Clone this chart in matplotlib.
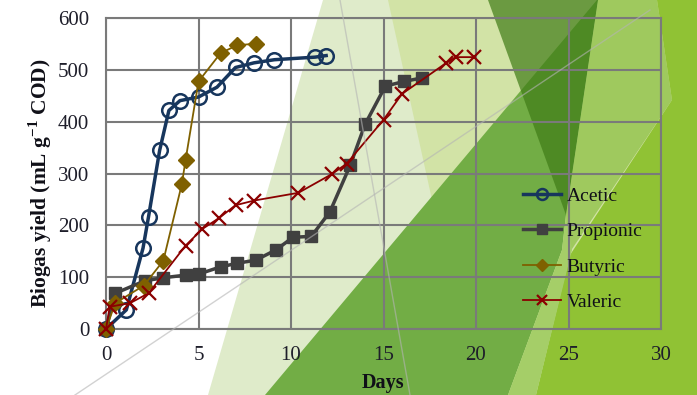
import matplotlib
matplotlib.use("Agg")
import matplotlib.pyplot as plt
from matplotlib.patches import Polygon
from matplotlib.lines import Line2D

plt.rcParams["font.family"] = ["Liberation Serif", "DejaVu Serif"]
plt.rcParams["mathtext.fontset"] = "custom"
plt.rcParams["mathtext.rm"] = "Liberation Serif:bold"
plt.rcParams["mathtext.bf"] = "Liberation Serif:bold"

# Cumulative biogas yield (mL g-1 COD) versus time (days)
acetic_days = [0, 1.1, 2.0, 2.3, 2.9, 3.4, 4.0, 5.0, 6.0, 7.0, 8.0, 9.1, 11.3, 11.9]
acetic_vals = [0, 37, 156, 217, 345, 422, 441, 448, 467, 505, 514, 520, 525, 528]

propionic_days = [0, 0.5, 2.1, 3.1, 4.3, 5.0, 6.2, 7.1, 8.1, 9.2, 10.1, 11.1, 12.1, 13.2, 14.0, 15.1, 16.1, 17.1]
propionic_vals = [0, 69, 93, 99, 104, 106, 120, 127, 133, 153, 177, 179, 226, 316, 395, 469, 478, 485]

butyric_days = [0, 0.5, 2.05, 3.1, 4.1, 4.3, 5.0, 6.2, 7.1, 8.1]
butyric_vals = [0, 50, 84, 132, 280, 326, 478, 533, 548, 551]

valeric_days = [0, 0.2, 1.3, 2.3, 4.3, 5.2, 6.1, 7.0, 8.0, 10.4, 12.2, 13.0, 15.0, 16.0, 18.4, 18.9, 19.9]
valeric_vals = [0, 43, 50, 69, 161, 193, 214, 239, 248, 263, 299, 319, 404, 454, 514, 525, 525]

x_ticks = [0, 5, 10, 15, 20, 25, 30]
y_ticks = [0, 100, 200, 300, 400, 500, 600]

W, H = 697, 395
fig = plt.figure(figsize=(W / 100, H / 100), dpi=100)
fig.patch.set_facecolor("white")


def px(points):
    return [(x / W, 1 - y / H) for x, y in points]


def shape(points, color, alpha=1.0):
    fig.add_artist(Polygon(px(points), closed=True, facecolor=color, edgecolor="none",
                           alpha=alpha, transform=fig.transFigure, zorder=0))


# Faceted green backdrop
shape([(323, 0), (697, 0), (697, 395), (208, 395)], "#dfebca")
shape([(388, 0), (697, 0), (697, 395), (475, 395)], "#d2e3a6")
shape([(265, 395), (597, 0), (598, 0), (566, 215), (562, 250), (508, 395)], "#72ad45")
shape([(598, 0), (657, 0), (672, 100), (568, 255), (566, 215)], "#9fc95e")
shape([(657, 0), (697, 0), (697, 395), (536, 395), (570, 255), (672, 100)], "#90c234")
shape([(566, 215), (572, 250), (536, 395), (508, 395), (562, 250)], "#a5ce68")
shape([(488, 0), (598, 0), (566, 215)], "#3f7c16", alpha=0.7)
for seg in ([(75, 395), (650, 10)], [(340, 0), (410, 395)]):
    fig.add_artist(Line2D([p[0] for p in px(seg)], [p[1] for p in px(seg)],
                          color="#b4b4b4", lw=1.0, alpha=0.6,
                          transform=fig.transFigure, zorder=0.5))

ax = fig.add_axes([106 / W, 1 - 329 / H, (661 - 106) / W, (329 - 18.3) / H])
ax.set_facecolor("none")
ax.set_xlim(0, 30)
ax.set_ylim(0, 600)
ax.set_xticks(x_ticks)
ax.set_yticks(y_ticks)
ax.grid(True, color="#7a7a7a", lw=1.5)
ax.set_axisbelow(True)
for s in ax.spines.values():
    s.set_color("#7a7a7a")
    s.set_linewidth(1.5)
ax.tick_params(length=0, labelsize=15, colors="#1e1e2a", pad=12)

ax.plot(acetic_days, acetic_vals, color="#17365d", lw=2.5, marker="o", ms=10.5,
        mfc="none", mec="#17365d", mew=1.8, label="Acetic", clip_on=False, zorder=3)
ax.plot(propionic_days, propionic_vals, color="#404040", lw=2.5, marker="s", ms=9,
        mfc="#404040", mec="#404040", label="Propionic", clip_on=False, zorder=4)
ax.plot(butyric_days, butyric_vals, color="#7f6000", lw=1.3, marker="D", ms=8,
        mfc="#7f6000", mec="#7f6000", label="Butyric", clip_on=False, zorder=5)
ax.plot(valeric_days, valeric_vals, color="#8b0000", lw=1.3, marker="x", ms=10,
        mew=1.6, label="Valeric", clip_on=False, zorder=6)

fig.text(40 / W, 1 - 183 / H, r"Biogas yield (mL g$^{-1}$ COD)", rotation=90,
         ha="center", va="center", fontsize=15.5, fontweight="bold", color="#101018")
fig.text(383.5 / W, 1 - 383 / H, "Days", ha="center", va="center",
         fontsize=14.5, fontweight="bold", color="#101018")

leg = ax.legend(loc="upper left", bbox_to_anchor=(523 / W, 1 - 187 / H),
                bbox_transform=fig.transFigure, frameon=False, fontsize=14,
                borderpad=0, borderaxespad=0, handlelength=1.95, handletextpad=0.3,
                labelspacing=0.92, markerscale=0.75)
for t in leg.get_texts():
    t.set_color("#101018")

fig.savefig("out.png", dpi=100)
